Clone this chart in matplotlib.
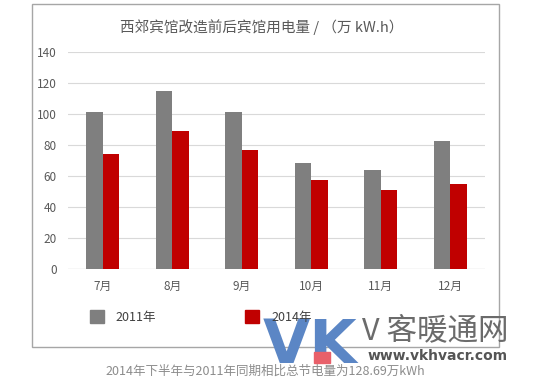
import matplotlib
matplotlib.use('Agg')
import matplotlib.pyplot as plt
from matplotlib.patches import Rectangle
import numpy as np

plt.rcParams['font.family'] = ['Noto Sans CJK SC', 'DejaVu Sans']

months = ['7月', '8月', '9月', '10月', '11月', '12月']
y2011 = [101.5, 115, 101.5, 68.5, 64, 82.5]
y2014 = [74, 89, 77, 57.5, 51, 55]
title = '西郊宾馆改造前后宾馆用电量 / （万 kW.h）'
caption = '2014年下半年与2011年同期相比总节电量为128.69万kWh'

W, H = 536, 390
fig = plt.figure(figsize=(W / 100, H / 100), dpi=100, facecolor='white')

def fx(px): return px / W
def fy(py): return 1 - py / H

# outer frame
fig.patches.append(Rectangle((fx(32), fy(347)), fx(499) - fx(32), fy(4) - fy(347),
                             transform=fig.transFigure, fill=False, ec='#a6a6a6', lw=1.0))

ax = fig.add_axes([fx(68), fy(269), fx(485) - fx(68), fy(52) - fy(269)])
x = np.arange(len(months))
bw = 0.24
ax.bar(x - bw / 2, y2011, bw, color='#7f7f7f', zorder=3)
ax.bar(x + bw / 2, y2014, bw, color='#c00000', zorder=3)
ax.set_xlim(-0.5, len(months) - 0.5)
ax.set_ylim(0, 140)
ax.set_yticks(range(0, 141, 20))
ax.set_xticks(x, months)
ax.grid(axis='y', color='#d9d9d9', lw=0.8, zorder=0)
for s in ax.spines.values():
    s.set_visible(False)
ax.axhline(0, color='#d9d9d9', lw=0.9, zorder=2)
ax.tick_params(length=0, labelsize=8.5, colors='#595959')
ax.tick_params(axis='y', pad=8)
ax.tick_params(axis='x', pad=8)

fig.text(fx(262), fy(27), title, ha='center', va='center', fontsize=10.5, color='#595959')

# legend
fig.patches.append(Rectangle((fx(90), fy(323)), fx(14), fy(310) - fy(323),
                             transform=fig.transFigure, color='#7f7f7f'))
fig.text(fx(115), fy(317), '2011年', ha='left', va='center', fontsize=9, color='#404040', zorder=5)
fig.patches.append(Rectangle((fx(245), fy(323)), fx(14), fy(310) - fy(323),
                             transform=fig.transFigure, color='#c00000'))
fig.text(fx(271), fy(317), '2014年', ha='left', va='center', fontsize=9, color='#404040', zorder=5)

# watermark
fig.text(fx(263), fy(363), 'VK', ha='left', va='baseline', fontsize=44, fontweight='bold',
         family='DejaVu Sans', color='#5b86c5', zorder=3)
fig.patches.append(Rectangle((fx(314), fy(363)), fx(16), fy(352) - fy(363),
                             transform=fig.transFigure, color='#e8606a', zorder=4))
fig.text(fx(362), fy(331), 'V 客暖通网', ha='left', va='center', fontsize=22,
         color='#6b6b6b', zorder=3)
fig.text(fx(368), fy(356), 'www.vkhvacr.com', ha='left', va='center', fontsize=10,
         fontweight='bold', family='DejaVu Sans', color='#555555', zorder=3)

fig.text(fx(265), fy(371), caption, ha='center', va='center', fontsize=9, color='#8c8c8c')

fig.savefig('out.png', dpi=100, facecolor='white')
